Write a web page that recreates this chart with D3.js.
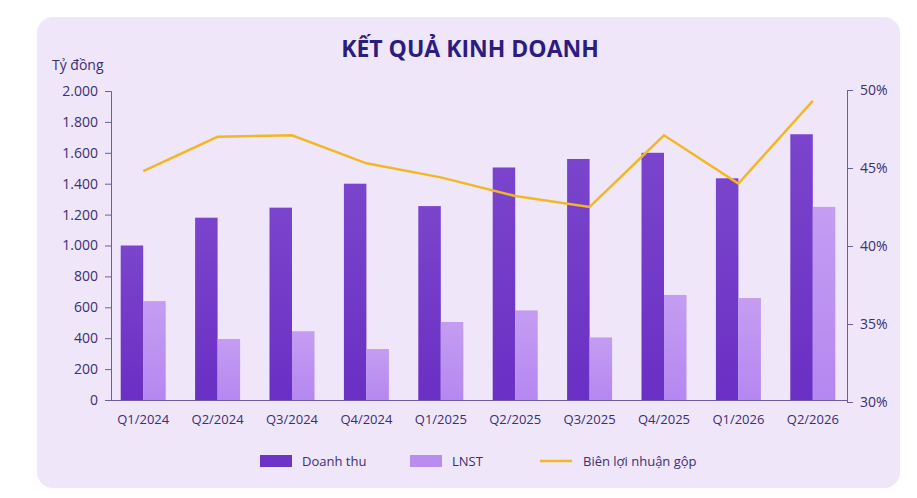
<!DOCTYPE html>
<html><head><meta charset="utf-8">
<script src="https://cdn.jsdelivr.net/npm/d3@7"></script>
<style>body{margin:0;background:#fff;font-family:"Open Sans",sans-serif}</style>
</head><body><svg id="c" width="917" height="498"></svg>
<script>
const categories=["Q1/2024","Q2/2024","Q3/2024","Q4/2024","Q1/2025","Q2/2025","Q3/2025","Q4/2025","Q1/2026","Q2/2026"];
const revenue=[1000,1180,1245,1400,1255,1505,1560,1600,1435,1720];
const profit=[640,395,445,330,505,580,405,680,660,1250];
const margin=[44.8,47.0,47.1,45.3,44.4,43.2,42.5,47.1,44.0,49.3];
const leftTicks=[0,200,400,600,800,1000,1200,1400,1600,1800,2000];
const rightTicks=[30,35,40,45,50];

const svg=d3.select("#c");
const defs=svg.append("defs");
const g1=defs.append("linearGradient").attr("id","gd").attr("x1",0).attr("y1",0).attr("x2",0).attr("y2",1);
g1.append("stop").attr("offset","0%").attr("stop-color","#7a45cc");
g1.append("stop").attr("offset","100%").attr("stop-color","#6a2fc4");
const g2=defs.append("linearGradient").attr("id","gl").attr("x1",0).attr("y1",0).attr("x2",0).attr("y2",1);
g2.append("stop").attr("offset","0%").attr("stop-color","#c49df2");
g2.append("stop").attr("offset","100%").attr("stop-color","#b587f0");

svg.append("rect").attr("x",37).attr("y",17).attr("width",863).attr("height",471).attr("rx",16).attr("fill","#efe6fa");

const x=d3.scaleBand().domain(categories).range([106,850]);
const y=d3.scaleLinear().domain([0,2000]).range([400,91]);
const y2=d3.scaleLinear().domain([30,50]).range([402,90]);
const bw=22.5;
const txt="#3b2f72";

svg.append("text").attr("x",470).attr("y",57).attr("text-anchor","middle").attr("font-size",23).attr("font-weight",700).attr("fill","#2b1c7e").text("KẾT QUẢ KINH DOANH");
svg.append("text").attr("x",52).attr("y",70).attr("font-size",14).attr("fill",txt).text("Tỷ đồng");

const la=svg.append("g").attr("transform","translate(111,0)").call(d3.axisLeft(y).tickValues(leftTicks).tickFormat(d=>d3.format(",")(d).replace(/,/g,".")).tickSizeOuter(0).tickSize(6).tickPadding(7));
const ra=svg.append("g").attr("transform","translate(847,0)").call(d3.axisRight(y2).tickValues(rightTicks).tickFormat(d=>d+"%").tickSizeOuter(0).tickSize(6).tickPadding(7));
[la,ra].forEach(a=>{a.selectAll("text").attr("font-size",14).attr("fill",txt).attr("font-family","Open Sans");a.selectAll("line,path").attr("stroke","#6b5fa0");});

svg.append("g").selectAll("rect").data(revenue).join("rect")
 .attr("x",(d,i)=>x(categories[i])+x.bandwidth()/2-bw).attr("width",bw)
 .attr("y",d=>y(d)).attr("height",d=>y(0)-y(d)).attr("fill","url(#gd)");
svg.append("g").selectAll("rect").data(profit).join("rect")
 .attr("x",(d,i)=>x(categories[i])+x.bandwidth()/2).attr("width",bw)
 .attr("y",d=>y(d)).attr("height",d=>y(0)-y(d)).attr("fill","url(#gl)");
svg.append("line").attr("x1",111).attr("x2",847).attr("y1",400.5).attr("y2",400.5).attr("stroke","#6b5fa0");

svg.append("path").datum(margin).attr("fill","none").attr("stroke","#f2b824").attr("stroke-width",2.5)
 .attr("d",d3.line().x((d,i)=>x(categories[i])+x.bandwidth()/2).y(d=>y2(d)));

svg.append("g").selectAll("text").data(categories).join("text")
 .attr("x",d=>x(d)+x.bandwidth()/2).attr("y",424).attr("text-anchor","middle").attr("font-size",13).attr("fill",txt).text(d=>d);

const lg=svg.append("g");
lg.append("rect").attr("x",260).attr("y",455).attr("width",32).attr("height",12).attr("fill","#6e34c6");
lg.append("text").attr("x",302).attr("y",466).attr("font-size",13).attr("fill",txt).text("Doanh thu");
lg.append("rect").attr("x",410).attr("y",455).attr("width",32).attr("height",12).attr("fill","#b98cf0");
lg.append("text").attr("x",452).attr("y",466).attr("font-size",13).attr("fill",txt).text("LNST");
lg.append("line").attr("x1",540).attr("x2",572).attr("y1",461).attr("y2",461).attr("stroke","#f2b824").attr("stroke-width",2.5);
lg.append("text").attr("x",583).attr("y",466).attr("font-size",13).attr("fill",txt).text("Biên lợi nhuận gộp");
</script></body></html>
